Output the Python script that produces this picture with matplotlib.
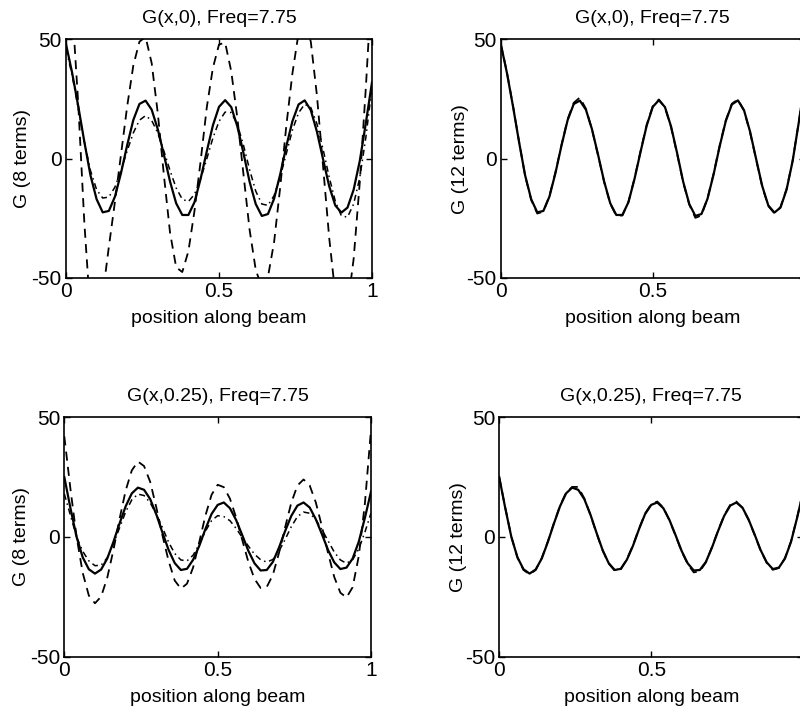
import numpy as np
import matplotlib
matplotlib.use("Agg")
import matplotlib.pyplot as plt

plt.rcParams["font.family"] = ["Liberation Sans", "DejaVu Sans"]

# sample positions along the beam
x = np.linspace(0, 1, 51)

# G(x,0): exact curve, 8-term dashed / dash-dot, 12-term dashed
g0_exact = [48, 36, 22, 7, -7, -17, -22.5, -21.9, -15.9, -5.9, 5.7, 16.2, 22.9, 24.3, 20.5, 12.3,
            1.6, -9.6, -18.7, -23.6, -23.6, -18.2, -8.4, 3.0, 13.9, 21.7, 24.5, 21.6, 13.5, 2.3,
            -9.7, -19.0, -24.0, -23.2, -16.8, -6.6, 5.2, 15.7, 22.7, 24.4, 20.3, 11.3, -0.2,
            -11.5, -19.6, -22.6, -20.5, -13, -1, 15, 32]
g0_8_dash = [80, 64, 23, -27, -65, -70, -57, -37, -18, 2, 22, 39, 49, 51, 40, 19, -7, -31, -45.5,
             -47.5, -38.8, -21.8, -1, 21.4, 38, 47.8, 48.6, 36.6, 17, -6.6, -29.8, -46.5, -54,
             -49.5, -35, -12, 13.8, 35.8, 52.6, 58, 49, 26.5, -3, -33, -56.7, -67.5, -62, -42,
             -10, 30, 75]
g0_8_dashdot = [46, 35, 21, 7, -5, -13, -16.5, -16.1, -11.9, -4.9, 3.3, 10.8, 16.1, 18, 16, 10.8,
                3.1, -5, -12.3, -17, -18, -14.9, -8.5, -0.1, 8.6, 15.6, 19.5, 19.3, 14.3, 5.6,
                -4.6, -13.6, -19, -19.6, -15.5, -7.6, 2.1, 12, 19.2, 22.8, 21.4, 14.6, 4, -7.7,
                -17.8, -24, -24.5, -19, -8, 9, 30]
g0_12_dash = [48, 36.3, 22.2, 7.2, -7.2, -17.3, -23, -22.2, -15.6, -5.6, 5.9, 16.6, 23.4, 25.6,
              20.9, 12.1, 1.3, -9.8, -18.9, -24, -23.8, -18.0, -8.2, 3.3, 14.2, 22.0, 24.8, 21.4,
              13.2, 2.0, -10.0, -19.3, -24.8, -23.8, -16.6, -6.3, 5.5, 16.0, 23.0, 24.8, 20.1,
              11.0, -0.5, -11.8, -19.9, -22.9, -20.3, -12.7, -0.8, 15.2, 32]

# G(x,0.25): exact curve, 8-term dashed / dash-dot, 12-term dashed
g25_exact = [25, 12, 0, -8.5, -13.5, -15.3, -13.6, -9, -2.1, 5.6, 12.8, 18.2, 20.6, 19.7, 15.8,
             9.4, 1.8, -5.4, -10.9, -13.8, -13.3, -9.5, -3.7, 3.3, 9.6, 13.4, 14.4, 12, 7.1, 0.8,
             -5.8, -11, -14, -13.8, -10.4, -4.4, 2.5, 8.8, 13.1, 14.4, 12.3, 7.4, 1.1, -5.5,
             -10.6, -13.4, -12.8, -9, -2, 8, 19]
g25_8_dash = [42, 20, 0, -15, -24.5, -27.7, -24.9, -17, -5.5, 7.5, 19.4, 27.8, 31.5, 29.6, 23,
              12.3, 0.6, -10, -18.2, -21.6, -19.5, -12.7, -2.1, 8.9, 17.6, 21.8, 20.8, 16, 8.2,
              -1.2, -10.4, -17.5, -21.3, -20.9, -15.8, -6.6, 4.1, 14.3, 21.5, 24, 21.5, 14.4,
              4.3, -6.8, -16.7, -23.3, -25.3, -21, -8, 14, 45]
g25_8_dashdot = [18, 9, 0, -6, -10, -12, -11.8, -8.7, -3, 3.8, 10.5, 15.5, 17.9, 17.3, 14.3, 9.4,
                 3.9, -2.2, -6.9, -9.6, -10, -7.6, -3, 2.4, 6.8, 8.9, 8.5, 6.8, 3.6, -0.2, -3.8,
                 -7.2, -9.5, -10.5, -9.4, -5.9, -1, 4.3, 8.5, 10.4, 9.9, 7.3, 3, -1.6, -6.3, -9.6,
                 -11, -9.5, -5, 2, 10]
g25_12_dash = [25, 12.2, 0.1, -8.6, -13.8, -15.6, -13.8, -8.8, -1.9, 5.8, 13.0, 18.5, 20.9, 20.9,
               16.1, 9.2, 1.6, -5.6, -11.1, -14.1, -13.5, -9.3, -3.5, 3.5, 9.8, 13.7, 14.8, 12.3,
               6.9, 0.6, -6.0, -11.3, -14.8, -14.3, -10.6, -4.2, 2.7, 9.0, 13.4, 14.8, 12.1, 7.2,
               0.9, -5.7, -10.8, -13.7, -13.0, -8.8, -1.8, 8.2, 19]

titles = ["G(x,0), Freq=7.75", "G(x,0), Freq=7.75",
          "G(x,0.25), Freq=7.75", "G(x,0.25), Freq=7.75"]
ylabels = ["G (8 terms)", "G (12 terms)", "G (8 terms)", "G (12 terms)"]

dash = (0, (5, 3.5))
dashdot = (0, (4, 2.5, 1, 2.5))

fig = plt.figure(figsize=(8, 7.09), dpi=100)
ax1 = fig.add_axes([0.0825, 0.6079, 0.3825, 0.3367])
ax2 = fig.add_axes([0.626, 0.6079, 0.38, 0.3367])
ax3 = fig.add_axes([0.0804, 0.0738, 0.3834, 0.3377])
ax4 = fig.add_axes([0.624, 0.0738, 0.38, 0.3377])

ax1.plot(x, g0_exact, color="black", lw=1.6)
ax1.plot(x, g0_8_dash, color="black", lw=1.3, ls=dash)
ax1.plot(x, g0_8_dashdot, color="black", lw=1.1, ls=dashdot)

ax2.plot(x, g0_exact, color="black", lw=1.6)
ax2.plot(x, g0_12_dash, color="black", lw=1.3, ls=dash)

ax3.plot(x, g25_exact, color="black", lw=1.6)
ax3.plot(x, g25_8_dash, color="black", lw=1.3, ls=dash)
ax3.plot(x, g25_8_dashdot, color="black", lw=1.1, ls=dashdot)

ax4.plot(x, g25_exact, color="black", lw=1.6)
ax4.plot(x, g25_12_dash, color="black", lw=1.3, ls=dash)

for i, ax in enumerate([ax1, ax2, ax3, ax4]):
    ax.set_xlim(0, 1)
    ax.set_ylim(-50, 50)
    ax.set_xticks([0, 0.5, 1])
    if i % 2 == 0:
        ax.set_xticklabels(["0", "0.5", "1"])
    else:
        # the right column is cropped at the figure edge, its "1" is not visible
        ax.set_xticklabels(["0", "0.5", ""])
    ax.set_yticks([-50, 0, 50])
    ax.set_yticklabels(["-50", "0", "50"])
    ax.tick_params(direction="in", length=4, width=1, top=True, right=True,
                   labelsize=15, pad=3)
    for s in ax.spines.values():
        s.set_linewidth(1.2)
    ax.set_title(titles[i], fontsize=14, pad=12)
    ax.set_xlabel("position along beam", fontsize=14)
    ax.set_ylabel(ylabels[i], fontsize=14)
    ax.xaxis.set_label_coords(0.5, -0.135)
    if i % 2 == 0:
        ax.yaxis.set_label_coords(-0.113, 0.5)
    else:
        ax.yaxis.set_label_coords(-0.106, 0.5)

fig.savefig("out.png", dpi=100)
